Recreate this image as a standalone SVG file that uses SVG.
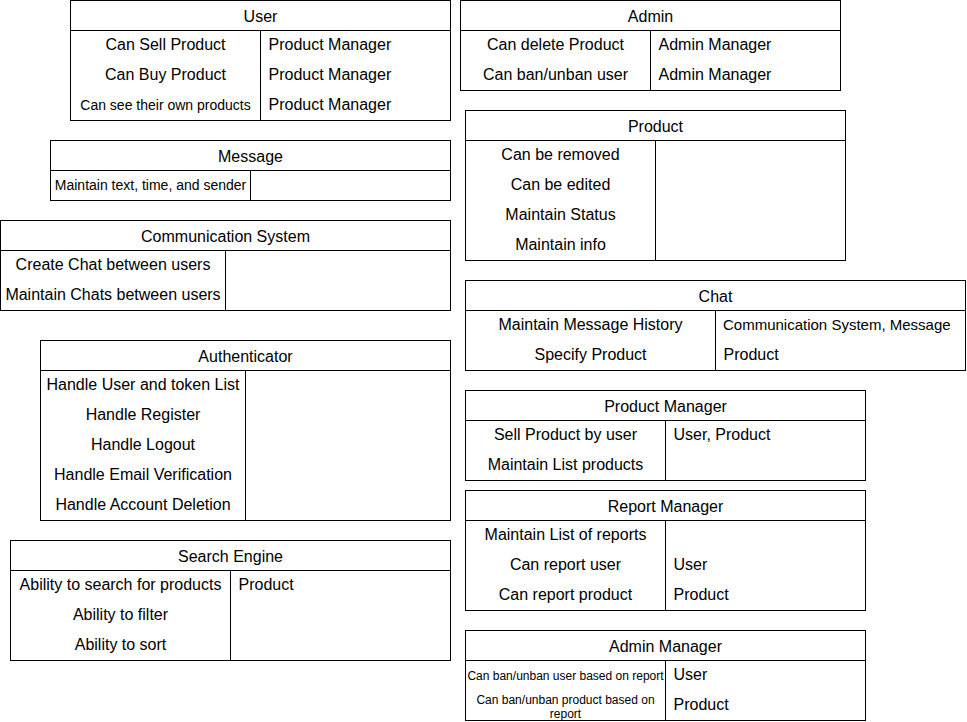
<svg xmlns="http://www.w3.org/2000/svg" width="967" height="722" viewBox="0 0 967 722">
<style>
  .box { fill: #ffffff; stroke: #000000; stroke-width: 1; }
  .ln { stroke: #000000; stroke-width: 1; fill: none; }
  text { font-family: "Liberation Sans", Helvetica, Arial, sans-serif; font-size: 16px; fill: #000000; }
  .c { text-anchor: middle; }
  .s14 { font-size: 14px; }
  .s15 { font-size: 15px; }
  .s12 { font-size: 12px; }
</style>
<rect width="967" height="722" fill="#ffffff"/>

<g id="user">
  <rect class="box" x="70.5" y="0.5" width="380" height="120"/>
  <line class="ln" x1="70.5" y1="30.5" x2="450.5" y2="30.5"/>
  <line class="ln" x1="260.5" y1="30.5" x2="260.5" y2="120.5"/>
  <text class="c" x="260.5" y="22">User</text>
  <text class="c" x="165.5" y="50">Can Sell Product</text>
  <text class="c" x="165.5" y="80">Can Buy Product</text>
  <text class="c s14" x="165.5" y="110">Can see their own products</text>
  <text x="268.5" y="50">Product Manager</text>
  <text x="268.5" y="80">Product Manager</text>
  <text x="268.5" y="110">Product Manager</text>
</g>

<g id="admin">
  <rect class="box" x="460.5" y="0.5" width="380" height="90"/>
  <line class="ln" x1="460.5" y1="30.5" x2="840.5" y2="30.5"/>
  <line class="ln" x1="650.5" y1="30.5" x2="650.5" y2="90.5"/>
  <text class="c" x="650.5" y="22">Admin</text>
  <text class="c" x="555.5" y="50">Can delete Product</text>
  <text class="c" x="555.5" y="80">Can ban/unban user</text>
  <text x="658.5" y="50">Admin Manager</text>
  <text x="658.5" y="80">Admin Manager</text>
</g>

<g id="product">
  <rect class="box" x="465.5" y="110.5" width="380" height="150"/>
  <line class="ln" x1="465.5" y1="140.5" x2="845.5" y2="140.5"/>
  <line class="ln" x1="655.5" y1="140.5" x2="655.5" y2="260.5"/>
  <text class="c" x="655.5" y="132">Product</text>
  <text class="c" x="560.5" y="160">Can be removed</text>
  <text class="c" x="560.5" y="190">Can be edited</text>
  <text class="c" x="560.5" y="220">Maintain Status</text>
  <text class="c" x="560.5" y="250">Maintain info</text>
</g>

<g id="message">
  <rect class="box" x="50.5" y="140.5" width="400" height="60"/>
  <line class="ln" x1="50.5" y1="170.5" x2="450.5" y2="170.5"/>
  <line class="ln" x1="250.5" y1="170.5" x2="250.5" y2="200.5"/>
  <text class="c" x="250.5" y="162">Message</text>
  <text class="c s14" x="150.5" y="190">Maintain text, time, and sender</text>
</g>

<g id="communication-system">
  <rect class="box" x="0.5" y="220.5" width="450" height="90"/>
  <line class="ln" x1="0.5" y1="250.5" x2="450.5" y2="250.5"/>
  <line class="ln" x1="225.5" y1="250.5" x2="225.5" y2="310.5"/>
  <text class="c" x="225.5" y="242">Communication System</text>
  <text class="c" x="113" y="270">Create Chat between users</text>
  <text class="c" x="113" y="300">Maintain Chats between users</text>
</g>

<g id="chat">
  <rect class="box" x="465.5" y="280.5" width="500" height="90"/>
  <line class="ln" x1="465.5" y1="310.5" x2="965.5" y2="310.5"/>
  <line class="ln" x1="715.5" y1="310.5" x2="715.5" y2="370.5"/>
  <text class="c" x="715.5" y="302">Chat</text>
  <text class="c" x="590.5" y="330">Maintain Message History</text>
  <text class="c" x="590.5" y="360">Specify Product</text>
  <text class="s15" x="723" y="330">Communication System, Message</text>
  <text x="723.5" y="360">Product</text>
</g>

<g id="authenticator">
  <rect class="box" x="40.5" y="340.5" width="410" height="180"/>
  <line class="ln" x1="40.5" y1="370.5" x2="450.5" y2="370.5"/>
  <line class="ln" x1="245.5" y1="370.5" x2="245.5" y2="520.5"/>
  <text class="c" x="245.5" y="362">Authenticator</text>
  <text class="c" x="143" y="390">Handle User and token List</text>
  <text class="c" x="143" y="420">Handle Register</text>
  <text class="c" x="143" y="450">Handle Logout</text>
  <text class="c" x="143" y="480">Handle Email Verification</text>
  <text class="c" x="143" y="510">Handle Account Deletion</text>
</g>

<g id="product-manager">
  <rect class="box" x="465.5" y="390.5" width="400" height="90"/>
  <line class="ln" x1="465.5" y1="420.5" x2="865.5" y2="420.5"/>
  <line class="ln" x1="665.5" y1="420.5" x2="665.5" y2="480.5"/>
  <text class="c" x="665.5" y="412">Product Manager</text>
  <text class="c" x="565.5" y="440">Sell Product by user</text>
  <text class="c" x="565.5" y="470">Maintain List products</text>
  <text x="673.5" y="440">User, Product</text>
</g>

<g id="report-manager">
  <rect class="box" x="465.5" y="490.5" width="400" height="120"/>
  <line class="ln" x1="465.5" y1="520.5" x2="865.5" y2="520.5"/>
  <line class="ln" x1="665.5" y1="520.5" x2="665.5" y2="610.5"/>
  <text class="c" x="665.5" y="512">Report Manager</text>
  <text class="c" x="565.5" y="540">Maintain List of reports</text>
  <text class="c" x="565.5" y="570">Can report user</text>
  <text class="c" x="565.5" y="600">Can report product</text>
  <text x="673.5" y="570">User</text>
  <text x="673.5" y="600">Product</text>
</g>

<g id="search-engine">
  <rect class="box" x="10.5" y="540.5" width="440" height="120"/>
  <line class="ln" x1="10.5" y1="570.5" x2="450.5" y2="570.5"/>
  <line class="ln" x1="230.5" y1="570.5" x2="230.5" y2="660.5"/>
  <text class="c" x="230.5" y="562">Search Engine</text>
  <text class="c" x="120.5" y="590">Ability to search for products</text>
  <text class="c" x="120.5" y="620">Ability to filter</text>
  <text class="c" x="120.5" y="650">Ability to sort</text>
  <text x="238.5" y="590">Product</text>
</g>

<g id="admin-manager">
  <rect class="box" x="465.5" y="630.5" width="400" height="90"/>
  <line class="ln" x1="465.5" y1="660.5" x2="865.5" y2="660.5"/>
  <line class="ln" x1="665.5" y1="660.5" x2="665.5" y2="720.5"/>
  <text class="c" x="665.5" y="652">Admin Manager</text>
  <text class="c s12" x="565.5" y="680">Can ban/unban user based on report</text>
  <text class="c s12" x="565.5" y="704">Can ban/unban product based on</text>
  <text class="c s12" x="565.5" y="718">report</text>
  <text x="673.5" y="680">User</text>
  <text x="673.5" y="710">Product</text>
</g>

<g id="connectors"></g>
</svg>
